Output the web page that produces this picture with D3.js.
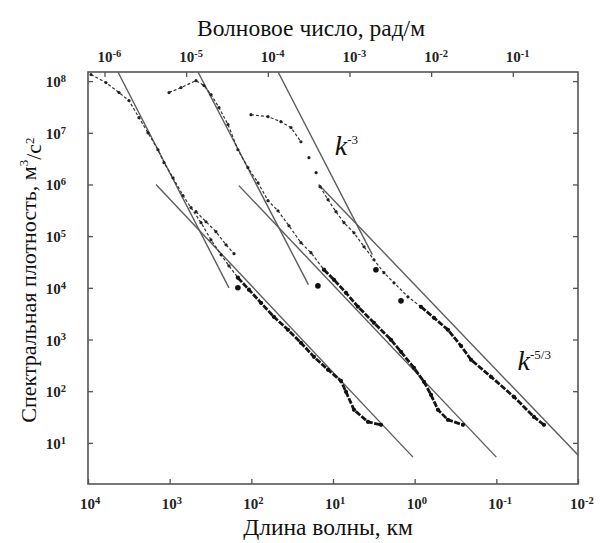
<!DOCTYPE html>
<html>
<head>
<meta charset="utf-8">
<script src="https://cdn.jsdelivr.net/npm/d3@7"></script>
<style>
  body { margin: 0; background: #fff; }
</style>
</head>
<body>
<div id="chart"></div>
<script>
// axis ticks: wavelength (km), wavenumber (rad/m), spectral density (m3/s2)
const lambdaTicks = [1e4, 1e3, 1e2, 1e1, 1e0, 1e-1, 1e-2];
const kTicks = [1e-6, 1e-5, 1e-4, 1e-3, 1e-2, 1e-1];
const eTicks = [1e1, 1e2, 1e3, 1e4, 1e5, 1e6, 1e7, 1e8];

// spectra, [wavelength km, spectral density]
const series1Sparse = [[9190,1.34e8],[6030,9.35e7],[4170,6.0e7],[3150,4.2e7],[2375,1.96e7],[1843,1.0e7],
  [1390,4.7e6],[1173,2.64e6],[910,1.35e6],[687,6.1e5],[548,3.55e5],[413,1.82e5],[312,8.5e4],[235,4.37e4],
  [188,2.67e4],[146,1.57e4]];
const series1Branch = [[476,2.97e5],[359,1.9e5],[271,1.22e5],[204,6.8e4],[163,4.57e4]];
const series1Dense = [[146,1.57e4],[107,9.2e3],[76,5.1e3],[53,2.75e3],[35.6,1.54e3],[24.7,863],[17.1,462],
  [11.5,259],[7.98,158],[6.93,97],[5.53,43.5],[3.73,25.5],[2.58,22.3]];

const series2Sparse = [[1018,6.0e7],[726,7.5e7],[476,1.02e8],[380,8.2e7],[312,5.5e7],[249,3.07e7],[193,1.44e7],
  [146,4.7e6],[110,2.11e6],[82.8,1.08e6],[62.5,4.85e5],[47.2,3.1e5],[34.6,1.59e5],[24.7,7.46e4],[18.6,4.78e4],
  [12.9,2.24e4]];
const series2Dense = [[12.9,2.24e4],[9.72,1.43e4],[6.93,8.0e3],[4.94,4.3e3],[3.15,2.1e3],[1.95,986],[1.47,578],
  [1.02,283],[0.769,152],[0.631,85],[0.518,43.5],[0.391,27.9],[0.256,22.3]];

const series3Top = [[101,2.24e7],[62.5,2.05e7],[43.4,1.64e7],[32.7,1.26e7],[24.7,6.7e6]];
const series3Gap = [[19.7,3.3e6],[16.1,1.69e6]];
const series3Sparse = [[14.4,9.06e5],[11.5,5.07e5],[9.19,2.97e5],[7.33,1.82e5],[5.53,1.16e5],[4.17,6.24e4],
  [3.15,3.49e4],[2.38,1.96e4],[1.79,1.25e4],[1.21,6.7e3],[0.837,4.3e3]];
const series3Dense = [[0.837,4.3e3],[0.58,2.63e3],[0.391,1.54e3],[0.271,755],[0.204,405],[0.116,190],
  [0.0608,77.6],[0.0346,31.8],[0.0261,22.3]];

const bigDots = [[146,1.0e4],[15.3,1.09e4],[2.98,2.24e4],[1.47,5.6e3]];

// fitted power laws: k^-3 and k^-5/3, [start, end]
const steepLines = [[[4300,1.5e8],[188,1.0e4]], [[450,1.5e8],[20,1.15e4]], [[47,1.5e8],[3.3,4.4e4]]];
const shallowLines = [[[1470,1.0e6],[1.05,5.3]], [[142,9.5e5],[0.1,5.3]], [[15,1.0e6],[0.01,5.8]]];

const width = 600, height = 543;
const margin = {left: 88, right: 578, top: 72, bottom: 484};

const svg = d3.select("#chart")
  .append("svg")
  .attr("width", width)
  .attr("height", height)
  .style("font-family", "'Liberation Serif', 'Times New Roman', serif");

const x = d3.scaleLog().domain([1e4, 1e-2]).range([margin.left, margin.right]);
const y = d3.scaleLog().domain([1.6, 1.5e8]).range([margin.bottom, margin.top]);
// wavenumber k = 2*pi / lambda(m)
const k = d3.scaleLog().domain([2 * Math.PI / 1e7, 2 * Math.PI / 10]).range([margin.left, margin.right]);

const tickColor = "#555";
function styleAxis(g) {
  g.select(".domain").remove();
  g.selectAll(".tick line").attr("stroke", tickColor).attr("stroke-width", 1.3);
}

svg.append("g").attr("transform", `translate(0,${margin.bottom})`)
  .call(d3.axisBottom(x).tickValues(lambdaTicks).tickSize(-5).tickFormat("")).call(styleAxis);
svg.append("g").attr("transform", `translate(0,${margin.top})`)
  .call(d3.axisTop(k).tickValues(kTicks).tickSize(-5).tickFormat("")).call(styleAxis);
svg.append("g").attr("transform", `translate(${margin.left},0)`)
  .call(d3.axisLeft(y).tickValues(eTicks).tickSize(-5).tickFormat("")).call(styleAxis);
svg.append("g").attr("transform", `translate(${margin.right},0)`)
  .call(d3.axisRight(y).tickValues(eTicks).tickSize(-5).tickFormat("")).call(styleAxis);

svg.append("rect")
  .attr("x", margin.left).attr("y", margin.top)
  .attr("width", margin.right - margin.left).attr("height", margin.bottom - margin.top)
  .attr("fill", "none").attr("stroke", "#555").attr("stroke-width", 1.6);

// power-of-ten labels
function powLabel(sel, px, py, anchor) {
  sel.each(function(d) {
    const t = d3.select(this).append("text")
      .attr("x", px(d)).attr("y", py(d))
      .attr("text-anchor", anchor)
      .style("font-weight", "bold").style("font-size", "15px").attr("fill", "#222");
    t.append("tspan").text("10");
    t.append("tspan").attr("dy", "-0.5em").style("font-size", "10.5px")
      .text(String(Math.round(Math.log10(d))));
  });
}
svg.append("g").selectAll("g").data(lambdaTicks).join("g")
  .call(powLabel, d => x(d) - 8, () => 509, "start");
svg.append("g").selectAll("g").data(kTicks).join("g")
  .call(powLabel, d => k(d) - 7, () => 62, "start");
svg.append("g").selectAll("g").data(eTicks).join("g")
  .call(powLabel, () => 66, d => y(d) + 6, "end");

// fit lines
const line = d3.line().x(d => x(d[0])).y(d => y(d[1]));
svg.append("g").selectAll("path").data(steepLines.concat(shallowLines)).join("path")
  .attr("d", line)
  .attr("fill", "none").attr("stroke", "#5c5c5c").attr("stroke-width", 1.4);

// measured spectra
const sparse = [series1Sparse, series1Branch, series2Sparse, series3Top, series3Sparse];
const dense = [series1Dense, series2Dense, series3Dense];

svg.append("g").selectAll("path").data(sparse).join("path")
  .attr("d", line).attr("fill", "none")
  .attr("stroke", "#333").attr("stroke-width", 1.2).attr("stroke-dasharray", "3 2");
svg.append("g").selectAll("circle").data(sparse.flat().concat(series3Gap)).join("circle")
  .attr("cx", d => x(d[0])).attr("cy", d => y(d[1])).attr("r", 1.6).attr("fill", "#222");

svg.append("g").selectAll("path").data(dense).join("path")
  .attr("d", line).attr("fill", "none")
  .attr("stroke", "#151515").attr("stroke-width", 2.8).attr("stroke-dasharray", "6 1.5");
svg.append("g").selectAll("circle").data(dense.flat()).join("circle")
  .attr("cx", d => x(d[0])).attr("cy", d => y(d[1])).attr("r", 2.1).attr("fill", "#111");
svg.append("g").selectAll("circle").data(bigDots).join("circle")
  .attr("cx", d => x(d[0])).attr("cy", d => y(d[1])).attr("r", 2.8).attr("fill", "#111");

// slope annotations
function slopeLabel(px, py, exp) {
  const t = svg.append("text").attr("x", px).attr("y", py)
    .style("font-style", "italic").style("font-size", "28px").attr("fill", "#111");
  t.append("tspan").text("k");
  t.append("tspan").attr("dy", "-0.85em").style("font-style", "normal").style("font-size", "13px").text(exp);
}
slopeLabel(x(9.5), y(3.7e6), "-3");
slopeLabel(x(0.055), y(260), "-5/3");

// axis titles
svg.append("text")
  .attr("x", 311).attr("y", 36).attr("text-anchor", "middle")
  .style("font-size", "23.5px").attr("fill", "#111")
  .text("Волновое число, рад/м");
svg.append("text")
  .attr("x", 328).attr("y", 535).attr("text-anchor", "middle")
  .style("font-size", "23.5px").attr("fill", "#111")
  .text("Длина волны, км");
const yt = svg.append("text")
  .attr("transform", "translate(36,280) rotate(-90)").attr("text-anchor", "middle")
  .style("font-size", "22px").attr("fill", "#111");
yt.append("tspan").text("Спектральная плотность, м");
yt.append("tspan").attr("dy", "-0.6em").style("font-size", "13px").text("3");
yt.append("tspan").attr("dy", "0.6em").text("/с");
yt.append("tspan").attr("dy", "-0.6em").style("font-size", "13px").text("2");
</script>
</body>
</html>
